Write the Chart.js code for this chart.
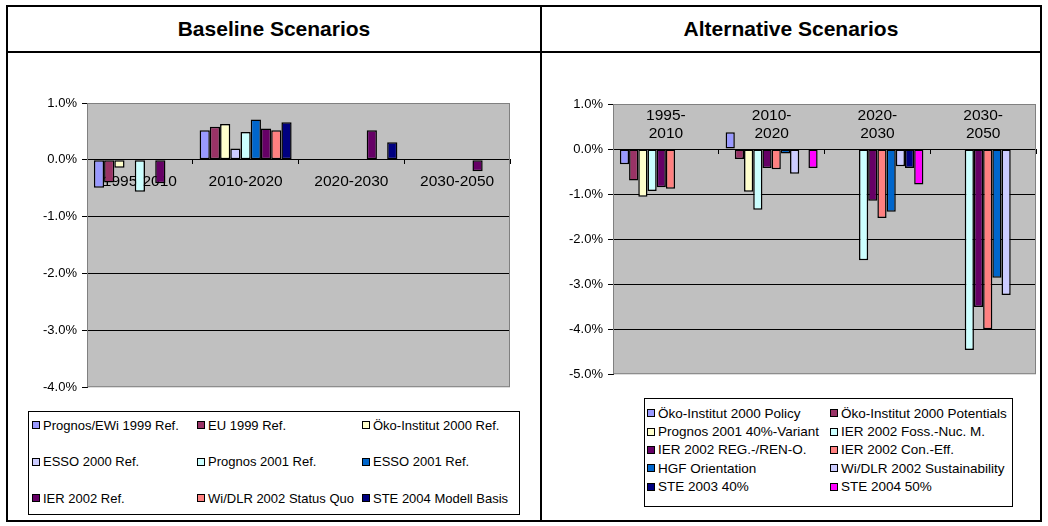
<!DOCTYPE html>
<html>
<head>
<meta charset="utf-8">
<script src="https://cdn.jsdelivr.net/npm/chart.js@4"></script>
<style>
    body{
        margin: 0;
        width: 1048px;
        height: 526px;
        background: #fff;
        font-family: "Liberation Sans", Arial, sans-serif;
        position: relative;
        overflow: hidden;
    }
    .frame{
        position: absolute;
        left: 6px; top: 5px;
        width: 1036px; height: 517px;
        box-sizing: border-box;
        border: 2px solid #000;
    }
    .hline{ position: absolute; left: 6px; top: 51px; width: 1036px; height: 2px; background: #000; }
    .vline{ position: absolute; left: 540px; top: 5px; width: 2px; height: 517px; background: #000; }
    .title{
        position: absolute;
        top: 7px; height: 44px; line-height: 44px;
        text-align: center;
        font-weight: bold;
        font-size: 21px;
    }
    canvas{ position: absolute; }
    .legend{
        position: absolute;
        box-sizing: border-box;
        border: 1px solid #000;
        display: grid;
        font-size: 13px;
        color: #000;
    }
    .legend .item{ display: flex; align-items: center; white-space: nowrap; }
    .legend .sw{
        display: inline-block;
        width: 8px; height: 8px;
        box-sizing: border-box;
        border: 1px solid #000;
        margin-right: 3px;
    }
    #legendBase{
        left: 28px; top: 411px; width: 492px; height: 104px;
        padding: 3px 0 0 3px;
        grid-template-columns: 165px 165px auto;
        grid-auto-rows: 20px;
        row-gap: 16.6px;
    }
    #legendAlt{
        left: 644px; top: 398px; width: 369px; height: 109px;
        padding: 5px 0 0 2px;
        grid-template-columns: 183px auto;
        grid-auto-rows: 18.35px;
        font-size: 13.5px;
    }
</style>
</head>
<body>
<div class="frame"></div>
<div class="hline"></div>
<div class="vline"></div>
<div class="title" style="left:8px;width:532px;">Baseline Scenarios</div>
<div class="title" style="left:542px;width:498px;">Alternative Scenarios</div>

<canvas id="baseChart" width="492" height="310" style="left:20px;top:90px;"></canvas>
<canvas id="altChart" width="495" height="297" style="left:545px;top:90px;"></canvas>
<div id="legendBase" class="legend"></div>
<div id="legendAlt" class="legend"></div>

<script>
    // 分類
    const baseCategories = ['1995-2010', '2010-2020', '2020-2030', '2030-2050'];
    const altCategories = [['1995-', '2010'], ['2010-', '2020'], ['2020-', '2030'], ['2030-', '2050']];

    // Baseline 數據 (%/年)
    const prognosEwi1999 = [-0.49, 0.52, null, null];
    const eu1999 = [-0.40, 0.58, null, null];
    const oeko2000Ref = [-0.14, 0.63, null, null];
    const esso2000 = [null, 0.20, null, null];
    const prognos2001 = [-0.56, 0.49, null, null];
    const esso2001 = [null, 0.71, null, null];
    const ier2002Ref = [-0.41, 0.55, 0.52, -0.20];
    const wiDlr2002Sq = [null, 0.52, null, null];
    const ste2004Basis = [null, 0.66, 0.31, null];

    // Alternative 數據 (%/年)
    const oekoPolicy = [-0.34, 0.37, null, null];
    const oekoPotentials = [-0.70, -0.22, null, null];
    const prognos2001Var40 = [-1.06, -0.95, null, null];
    const ierFossNuc = [-0.93, -1.35, -2.47, -4.46];
    const ierRegRen = [-0.85, -0.42, -1.15, -3.51];
    const ierConEff = [-0.88, -0.45, -1.53, -4.00];
    const hgfOrientation = [null, -0.10, -1.39, -2.86];
    const wiDlrSustain = [null, -0.55, -0.38, -3.24];
    const ste2003p40 = [null, null, -0.42, null];
    const ste2004p50 = [null, -0.42, -0.79, null];

    const baseTicks = { min: -4, max: 1, step: 1 };
    const altTicks = { min: -5, max: 1, step: 1 };

    Chart.defaults.font.family = '"Liberation Sans", Arial, sans-serif';
    Chart.defaults.color = '#000';

    // 灰色繪圖區
    const plotBg = {
        id: 'plotBg',
        beforeDraw(chart) {
            const a = chart.chartArea, c = chart.ctx;
            c.save();
            c.fillStyle = '#c0c0c0';
            c.fillRect(a.left, a.top, a.right - a.left, a.bottom - a.top);
            c.restore();
        },
        beforeDatasetsDraw(chart) {
            const a = chart.chartArea, c = chart.ctx;
            c.save();
            c.strokeStyle = '#808080';
            c.lineWidth = 1;
            c.strokeRect(a.left + 0.5, a.top + 0.5, a.right - a.left - 1, a.bottom - a.top - 1);
            c.restore();
        }
    };

    // HTML 圖例
    const htmlLegend = {
        id: 'htmlLegend',
        afterUpdate(chart, args, opts) {
            const box = document.getElementById(opts.containerID);
            box.innerHTML = '';
            chart.options.plugins.legend.labels.generateLabels(chart).forEach(item => {
                const row = document.createElement('div');
                row.className = 'item';
                const sw = document.createElement('span');
                sw.className = 'sw';
                sw.style.background = item.fillStyle;
                const tx = document.createElement('span');
                tx.textContent = item.text;
                row.append(sw, tx);
                box.appendChild(row);
            });
        }
    };

    function ds(label, data, color) {
        return {
            label: label,
            data: data,
            backgroundColor: color,
            borderColor: '#000',
            borderWidth: 1.5,
            borderSkipped: false,
            categoryPercentage: 0.87,
            barPercentage: 1
        };
    }

    function makeOptions(t, yWidth, pad, legendId, labelPad, catSize) {
        return {
            responsive: false,
            animation: false,
            layout: { padding: pad },
            plugins: {
                legend: { display: false },
                tooltip: { enabled: false },
                htmlLegend: { containerID: legendId }
            },
            scales: {
                x: {
                    position: { y: 0 },
                    z: 1,
                    grid: {
                        display: true,
                        drawOnChartArea: false,
                        drawTicks: true,
                        tickLength: 4,
                        tickColor: '#000',
                        offset: true
                    },
                    border: { display: true, color: '#000', width: 1 },
                    ticks: {
                        font: { size: catSize },
                        maxRotation: 0,
                        autoSkip: false,
                        padding: labelPad
                    }
                },
                y: {
                    min: t.min,
                    max: t.max,
                    afterFit(scale) { scale.width = yWidth; },
                    grid: {
                        color: ctx => (ctx.tick && (ctx.tick.value === t.max || ctx.tick.value === t.min)) ? 'rgba(0,0,0,0)' : '#000',
                        tickColor: '#000',
                        tickLength: 5,
                        lineWidth: 1
                    },
                    border: { display: true, color: '#000', width: 1 },
                    ticks: {
                        stepSize: t.step,
                        padding: 5,
                        font: { size: 13 },
                        callback: v => v.toFixed(1) + '%'
                    }
                }
            }
        };
    }

    new Chart(document.getElementById('baseChart'), {
        type: 'bar',
        data: {
            labels: baseCategories,
            datasets: [
                ds('Prognos/EWi 1999 Ref.', prognosEwi1999, '#9999ff'),
                ds('EU 1999 Ref.', eu1999, '#993366'),
                ds('Öko-Institut 2000 Ref.', oeko2000Ref, '#ffffcc'),
                ds('ESSO 2000 Ref.', esso2000, '#ccccff'),
                ds('Prognos 2001 Ref.', prognos2001, '#ccffff'),
                ds('ESSO 2001 Ref.', esso2001, '#0066cc'),
                ds('IER 2002 Ref.', ier2002Ref, '#660066'),
                ds('Wi/DLR 2002 Status Quo', wiDlr2002Sq, '#ff8080'),
                ds('STE 2004 Modell Basis', ste2004Basis, '#000080')
            ]
        },
        options: makeOptions(baseTicks, 67, { top: 13, bottom: 4, left: 0, right: 2 }, 'legendBase', 9, 15.5),
        plugins: [plotBg, htmlLegend]
    });

    new Chart(document.getElementById('altChart'), {
        type: 'bar',
        data: {
            labels: altCategories,
            datasets: [
                ds('Öko-Institut 2000 Policy', oekoPolicy, '#9999ff'),
                ds('Öko-Institut 2000 Potentials', oekoPotentials, '#993366'),
                ds('Prognos 2001 40%-Variant', prognos2001Var40, '#ffffcc'),
                ds('IER 2002 Foss.-Nuc. M.', ierFossNuc, '#ccffff'),
                ds('IER 2002 REG.-/REN-O.', ierRegRen, '#660066'),
                ds('IER 2002 Con.-Eff.', ierConEff, '#ff8080'),
                ds('HGF Orientation', hgfOrientation, '#0066cc'),
                ds('Wi/DLR 2002 Sustainability', wiDlrSustain, '#ccccff'),
                ds('STE 2003 40%', ste2003p40, '#000080'),
                ds('STE 2004 50%', ste2004p50, '#ff00ff')
            ]
        },
        options: makeOptions(altTicks, 68, { top: 14, bottom: 7, left: 0, right: 4 }, 'legendAlt', -47, 15.5),
        plugins: [plotBg, htmlLegend]
    });
</script>
</body>
</html>
